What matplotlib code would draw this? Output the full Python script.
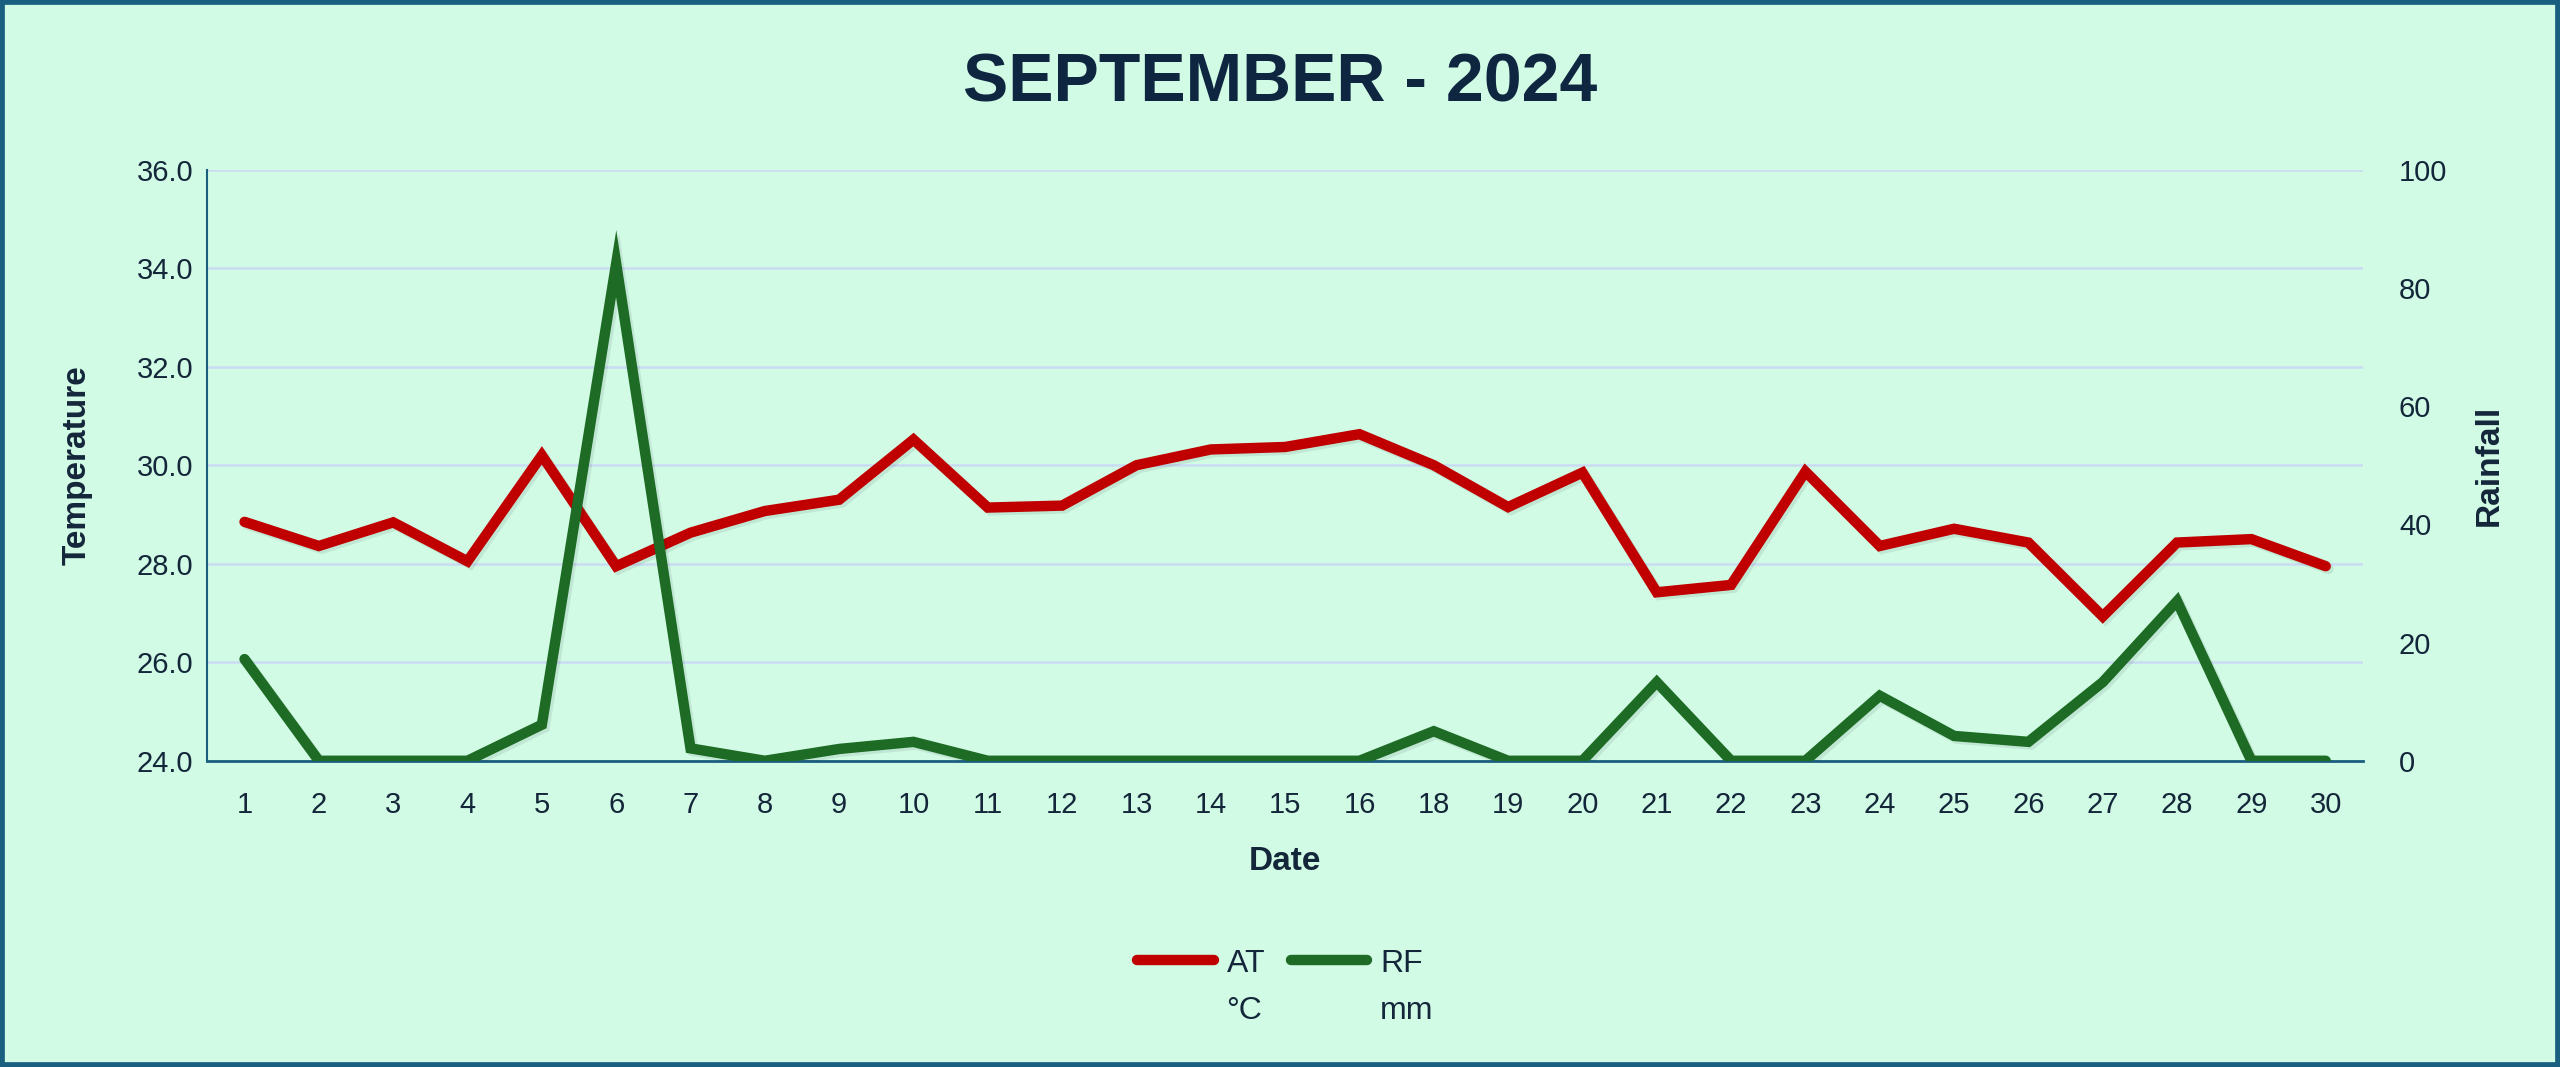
import matplotlib
matplotlib.use("Agg")
import matplotlib.pyplot as plt
import matplotlib.patheffects as pe
from matplotlib.patches import Rectangle

plt.rcParams["font.family"] = ["Liberation Sans", "DejaVu Sans"]

# data (day 17 is missing in the source)
dates = ["1", "2", "3", "4", "5", "6", "7", "8", "9", "10", "11", "12", "13", "14", "15",
         "16", "18", "19", "20", "21", "22", "23", "24", "25", "26", "27", "28", "29", "30"]
at_c = [28.85, 28.36, 28.84, 28.05, 30.2, 27.95, 28.63, 29.07, 29.3, 30.52, 29.14, 29.18, 30.0,
        30.32, 30.37, 30.63, 30.0, 29.15, 29.85, 27.42, 27.57, 29.87, 28.36, 28.71, 28.43,
        26.93, 28.43, 28.5, 27.95]
rf_mm = [17.2, 0, 0, 0, 6.1, 84.1, 2.1, 0, 2.0, 3.2, 0, 0, 0, 0, 0, 0, 5.0, 0, 0, 13.3, 0, 0,
         11.0, 4.2, 3.2, 13.3, 27.0, 0, 0]
series_names = ["AT", "RF"]
series_units = ["°C", "mm"]

temp_ticks = [24.0, 26.0, 28.0, 30.0, 32.0, 34.0, 36.0]
rain_ticks = [0, 20, 40, 60, 80, 100]

BG = "#d1fbe5"
NAVY = "#14263a"
FRAME = "#1a5e80"
RED = "#c00000"
GREEN = "#1e6b25"
GRID = "#c9dcf2"

fig = plt.figure(figsize=(25.6, 10.67), dpi=100, facecolor=BG)
fig.patches.append(Rectangle((0, 0), 1, 1, transform=fig.transFigure, fill=False,
                             edgecolor=FRAME, linewidth=7, zorder=10))

ax = fig.add_axes([0.081, 0.287, 0.842, 0.554])
ax.set_facecolor(BG)
ax2 = ax.twinx()

x = list(range(len(dates)))
shadow = [pe.SimpleLineShadow(offset=(2, -2), shadow_color="black", alpha=0.08), pe.Normal()]

l1, = ax.plot(x, at_c, color=RED, linewidth=7.5, solid_capstyle="round",
              solid_joinstyle="miter", path_effects=shadow, zorder=3, label=series_names[0])
l2, = ax2.plot(x, rf_mm, color=GREEN, linewidth=7.5, solid_capstyle="round",
               solid_joinstyle="miter", path_effects=shadow, zorder=3, label=series_names[1])

ax.set_xlim(-0.5, len(dates) - 0.5)
ax.set_ylim(24, 36)
ax2.set_ylim(0, 100)
ax.set_xticks(x)
ax.set_xticklabels(dates)
ax.set_yticks(temp_ticks)
ax.set_yticklabels([f"{t:.1f}" for t in temp_ticks])
ax2.set_yticks(rain_ticks)

ax.grid(axis="y", color=GRID, linewidth=1.8)
ax.set_axisbelow(True)

for a in (ax, ax2):
    for s in a.spines.values():
        s.set_visible(False)
    a.tick_params(length=0, labelsize=21, labelcolor=NAVY)
ax.spines["left"].set_visible(True)
ax.spines["left"].set_color(FRAME)
ax.spines["left"].set_linewidth(1.5)
ax2.spines["bottom"].set_visible(True)
ax2.spines["bottom"].set_color(FRAME)
ax2.spines["bottom"].set_linewidth(2)
ax2.spines["bottom"].set_zorder(2)
ax.tick_params(axis="x", pad=22)
ax.tick_params(axis="y", pad=10)
ax2.tick_params(axis="y", pad=26)

ax.set_xlabel("Date", fontsize=24, fontweight="bold", color=NAVY, labelpad=19)
ax.set_ylabel("Temperature", fontsize=24, fontweight="bold", color=NAVY, labelpad=32)
ax2.set_ylabel("Rainfall", fontsize=24, fontweight="bold", color=NAVY, labelpad=19)

fig.text(0.5, 0.922, "SEPTEMBER - 2024", ha="center", va="center", fontsize=49,
         fontweight="bold", color="#0f2640")

leg = fig.legend(handles=[l1, l2], loc="center", bbox_to_anchor=(0.5, 0.097), ncol=2,
                 frameon=False, fontsize=23, handlelength=2.4, handletextpad=0.4,
                 columnspacing=0.8, labelcolor=NAVY)
for h in leg.get_lines():
    h.set_path_effects([])
    h.set_solid_capstyle("round")

# units go on a second line under each legend label
fig.canvas.draw()
inv = fig.transFigure.inverted()
for txt, unit in zip(leg.get_texts(), series_units):
    bb = txt.get_window_extent()
    x0, y0 = inv.transform((bb.x0, bb.y0))
    fig.text(x0, y0 - 0.016, unit, ha="left", va="top", fontsize=23, color=NAVY)

fig.savefig("out.png", dpi=100, facecolor=BG)
